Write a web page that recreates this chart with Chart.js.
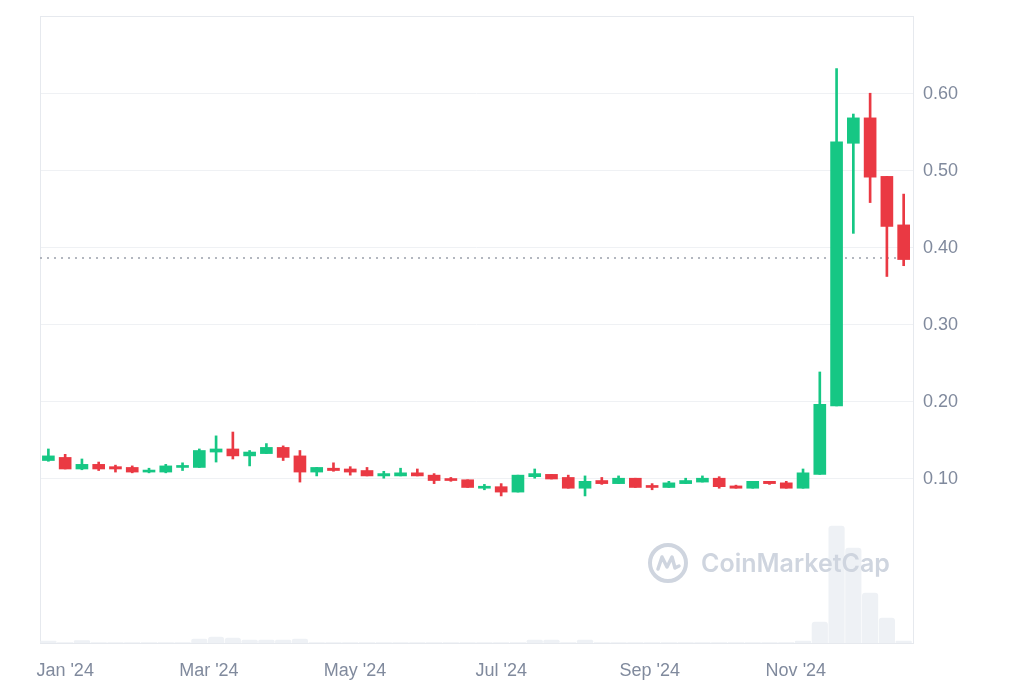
<!DOCTYPE html>
<html lang="en">
<head>
  <meta charset="UTF-8">
  <title>Weekly price chart 2024</title>
  <script src="https://cdn.jsdelivr.net/npm/chart.js"></script>
  <style>
    html, body { margin: 0; padding: 0; background: #fff; }
    #wrap { width: 1024px; height: 683px; }
    #chart { display: block; }
  </style>
</head>
<body>
  <div id="wrap"><canvas id="chart" width="1024" height="683"></canvas></div>

  <script>
    // Weekly candles (week start dates)
    const weeks = [
      '2023-12-25', '2024-01-01', '2024-01-08', '2024-01-15', '2024-01-22', '2024-01-29',
      '2024-02-05', '2024-02-12', '2024-02-19', '2024-02-26', '2024-03-04', '2024-03-11',
      '2024-03-18', '2024-03-25', '2024-04-01', '2024-04-08', '2024-04-15', '2024-04-22',
      '2024-04-29', '2024-05-06', '2024-05-13', '2024-05-20', '2024-05-27', '2024-06-03',
      '2024-06-10', '2024-06-17', '2024-06-24', '2024-07-01', '2024-07-08', '2024-07-15',
      '2024-07-22', '2024-07-29', '2024-08-05', '2024-08-12', '2024-08-19', '2024-08-26',
      '2024-09-02', '2024-09-09', '2024-09-16', '2024-09-23', '2024-09-30', '2024-10-07',
      '2024-10-14', '2024-10-21', '2024-10-28', '2024-11-04', '2024-11-11', '2024-11-18',
      '2024-11-25', '2024-12-02', '2024-12-09', '2024-12-16'
    ];
    const openPrices = [
      0.124, 0.128, 0.113, 0.119, 0.116, 0.115, 0.109, 0.109, 0.115, 0.115, 0.135, 0.139,
      0.130, 0.133, 0.141, 0.130, 0.109, 0.114, 0.113, 0.111, 0.104, 0.104, 0.108, 0.105,
      0.100, 0.099, 0.088, 0.090, 0.083, 0.103, 0.106, 0.102, 0.088, 0.098, 0.094, 0.101,
      0.091, 0.089, 0.094, 0.096, 0.101, 0.091, 0.088, 0.097, 0.095, 0.088, 0.106, 0.195,
      0.536, 0.569, 0.493, 0.430
    ];
    const highPrices = [
      0.139, 0.132, 0.126, 0.122, 0.118, 0.117, 0.114, 0.119, 0.121, 0.139, 0.156, 0.161,
      0.137, 0.146, 0.143, 0.137, 0.115, 0.121, 0.116, 0.115, 0.110, 0.114, 0.113, 0.107,
      0.102, 0.099, 0.093, 0.094, 0.105, 0.113, 0.106, 0.105, 0.104, 0.102, 0.104, 0.101,
      0.094, 0.097, 0.101, 0.104, 0.103, 0.092, 0.097, 0.097, 0.097, 0.113, 0.239, 0.633,
      0.574, 0.601, 0.493, 0.470
    ];
    const lowPrices = [
      0.123, 0.113, 0.112, 0.111, 0.109, 0.108, 0.108, 0.108, 0.111, 0.115, 0.122, 0.126,
      0.117, 0.133, 0.124, 0.096, 0.104, 0.110, 0.105, 0.104, 0.101, 0.104, 0.104, 0.094,
      0.097, 0.089, 0.086, 0.078, 0.083, 0.101, 0.100, 0.088, 0.078, 0.093, 0.094, 0.089,
      0.086, 0.089, 0.094, 0.096, 0.088, 0.088, 0.088, 0.093, 0.088, 0.088, 0.106, 0.195,
      0.419, 0.459, 0.363, 0.377
    ];
    const closePrices = [
      0.130, 0.113, 0.119, 0.113, 0.113, 0.109, 0.111, 0.117, 0.117, 0.137, 0.139, 0.130,
      0.135, 0.141, 0.128, 0.109, 0.115, 0.111, 0.109, 0.104, 0.107, 0.108, 0.104, 0.098,
      0.098, 0.089, 0.090, 0.083, 0.105, 0.107, 0.100, 0.088, 0.097, 0.094, 0.101, 0.089,
      0.089, 0.095, 0.098, 0.101, 0.090, 0.088, 0.097, 0.094, 0.088, 0.108, 0.197, 0.538,
      0.569, 0.492, 0.428, 0.385
    ];
    // Volume (millions)
    const volumes = [
      2, 0.4, 2.5, 0.4, 0.4, 0.4, 0.4, 0.4, 0.4, 4, 6, 5,
      3, 3, 3, 4, 0.4, 0.4, 0.4, 0.4, 0.4, 0.4, 0.4, 0.4,
      0.4, 0.4, 0.4, 0.4, 0.4, 3, 3, 0.4, 3, 0.4, 0.4, 0.4,
      0.4, 0.4, 0.4, 0.4, 0.4, 0.4, 0.4, 0.4, 0.4, 2, 21, 117,
      95, 50, 25, 2
    ];
    const currentPrice = 0.387;

    const tickDates  = ['2024-01-01', '2024-03-01', '2024-05-01', '2024-07-01', '2024-09-01', '2024-11-01'];
    const tickLabels = ["Jan '24", "Mar '24", "May '24", "Jul '24", "Sep '24", "Nov '24"];
    const priceTicks = [0.1, 0.2, 0.3, 0.4, 0.5, 0.6];

    const UP = '#16c784', DOWN = '#ea3943';
    const DAY = 86400000;
    const origin = Date.parse('2024-01-01');
    const toDay = d => (Date.parse(d) - origin) / DAY;

    const xs = weeks.map(toDay);
    const isUp = openPrices.map((o, i) => closePrices[i] >= o);
    const colors = isUp.map(u => u ? UP : DOWN);

    const bodies = xs.map((x, i) => ({ x, y: [Math.min(openPrices[i], closePrices[i]), Math.max(openPrices[i], closePrices[i])] }));
    const wicks  = xs.map((x, i) => ({ x, y: [lowPrices[i], highPrices[i]] }));
    const vols   = xs.map((x, i) => ({ x, y: volumes[i] }));

    const xMin = -10.5, xMax = 353.9;

    // plot frame + watermark
    const frame = {
      id: 'frame',
      beforeDatasetsDraw(chart) {
        const { ctx, chartArea: a } = chart;
        ctx.save();
        ctx.strokeStyle = '#e6e9ee';
        ctx.lineWidth = 1;
        ctx.strokeRect(a.left + 0.5, a.top + 0.5, a.right - a.left, a.bottom - a.top);
        ctx.restore();
      },
      afterDatasetsDraw(chart) {
        const { ctx, chartArea: a } = chart;
        const cx = a.left + 628, cy = a.bottom - 80;
        ctx.save();
        ctx.strokeStyle = '#cfd5df';
        ctx.fillStyle = '#cfd5df';
        ctx.lineWidth = 4;
        ctx.beginPath();
        ctx.arc(cx, cy, 18, 0, Math.PI * 2);
        ctx.stroke();
        ctx.lineWidth = 3.5;
        ctx.lineJoin = 'round';
        ctx.lineCap = 'round';
        ctx.beginPath();
        ctx.moveTo(cx - 10, cy + 6);
        ctx.lineTo(cx - 6, cy - 6);
        ctx.lineTo(cx - 1, cy + 4);
        ctx.lineTo(cx + 4, cy - 6);
        ctx.lineTo(cx + 7, cy + 5);
        ctx.lineTo(cx + 11, cy + 3);
        ctx.stroke();
        ctx.font = '600 25px Inter, "Noto Sans", sans-serif';
        ctx.textBaseline = 'middle';
        ctx.fillText('CoinMarketCap', cx + 33, cy + 1);
        ctx.restore();
      }
    };

    new Chart(document.getElementById('chart'), {
      type: 'bar',
      data: {
        datasets: [
          {
            type: 'line', label: 'current', order: 5,
            data: [{ x: xMin, y: currentPrice }, { x: xMax, y: currentPrice }],
            borderColor: '#9aa0aa', borderWidth: 1.5, borderDash: [2, 5],
            pointRadius: 0, yAxisID: 'y'
          },
          {
            label: 'volume', order: 10, data: vols, yAxisID: 'y1',
            backgroundColor: '#eef1f5', barThickness: 15.5,
            borderRadius: { topLeft: 3, topRight: 3 }, borderSkipped: false
          },
          {
            label: 'wick', order: 2, data: wicks, yAxisID: 'y',
            backgroundColor: colors, barThickness: 2, minBarLength: 1
          },
          {
            label: 'body', order: 1, data: bodies, yAxisID: 'y',
            backgroundColor: colors, barThickness: 12, minBarLength: 2
          }
        ]
      },
      options: {
        responsive: false,
        animation: false,
        layout: { padding: { left: 40, top: 16 } },
        datasets: { bar: { grouped: false } },
        plugins: { legend: { display: false }, tooltip: { enabled: false } },
        scales: {
          x: {
            type: 'linear', min: xMin, max: xMax, offset: false,
            grid: { display: false, drawTicks: false },
            border: { display: false },
            afterBuildTicks: s => { s.ticks = tickDates.map(d => ({ value: toDay(d) })); },
            afterFit: s => { s.height = 40; s.paddingLeft = 0; s.paddingRight = 0; },
            ticks: {
              autoSkip: false, maxRotation: 0, padding: 17,
              color: '#808a9d',
              font: { size: 18, family: '"Liberation Sans", Arial, sans-serif' },
              callback: (v, i) => tickLabels[i]
            }
          },
          y: {
            position: 'right', min: -0.113, max: 0.7013,
            grid: { color: '#eff1f4', drawTicks: false },
            border: { display: false },
            afterBuildTicks: s => { s.ticks = priceTicks.map(v => ({ value: v })); },
            afterFit: s => { s.width = 111; s.paddingTop = 0; s.paddingBottom = 0; },
            ticks: {
              padding: 10, color: '#808a9d',
              font: { size: 18, family: '"Liberation Sans", Arial, sans-serif' },
              callback: v => v.toFixed(2)
            }
          },
          y1: {
            display: false, min: 0, max: 627
          }
        }
      },
      plugins: [frame]
    });
  </script>
</body>
</html>
